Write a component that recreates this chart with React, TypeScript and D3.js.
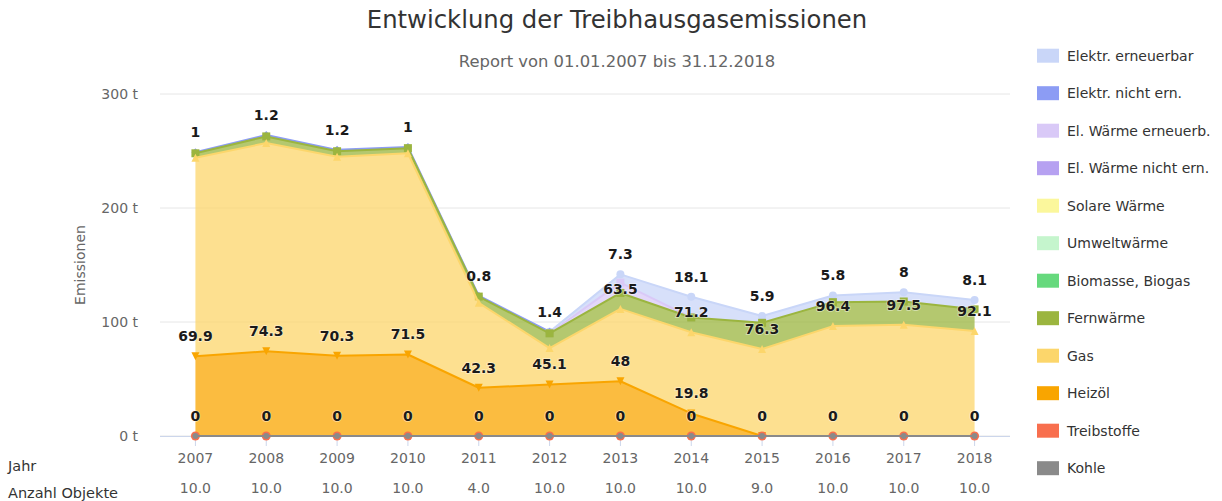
import React from 'react';
import * as d3 from 'd3';

const YEARS = ['2007', '2008', '2009', '2010', '2011', '2012', '2013', '2014', '2015', '2016', '2017', '2018'];
const OBJECT_COUNTS = ['10.0', '10.0', '10.0', '10.0', '4.0', '10.0', '10.0', '10.0', '9.0', '10.0', '10.0', '10.0'];
const Y_TICKS = [0, 100, 200, 300];

type V = number | null;
const ELEKTR_ERNEUERBAR: V[] = [null, null, null, null, null, 0, 7.3, 18.1, 5.9, 5.8, 8, 8.1];
const ELEKTR_NICHT_ERN: V[] = [1, 1.2, 1.2, 1, 0.8, 1.4, null, null, null, null, null, null];
const ELW_ERNEUERB: V[] = [null, null, null, null, null, 0, 9, 0, null, null, null, null];
const ELW_NICHT_ERN: V[] = [null, null, null, null, null, null, null, null, null, null, null, null];
const SOLARE_WAERME: V[] = [null, null, null, null, null, null, null, null, null, null, null, null];
const UMWELTWAERME: V[] = [null, null, null, null, null, null, null, null, null, null, null, null];
const BIOMASSE: V[] = [null, null, null, null, null, null, null, null, null, null, null, null];
const FERNWAERME: V[] = [4, 5.8, 4.8, 4.5, 5.5, 13, 14, 13, 23, 21, 20.5, 19];
const GAS: V[] = [174.1, 182.7, 174.7, 176.5, 74.5, 32, 63.5, 71.2, 76.3, 96.4, 97.5, 92.1];
const HEIZOEL: V[] = [69.9, 74.3, 70.3, 71.5, 42.3, 45.1, 48, 19.8, 0, null, null, null];
const TREIBSTOFFE: V[] = [0, 0, 0, 0, 0, 0, 0, 0, 0, 0, 0, 0];
const KOHLE: V[] = [0, 0, 0, 0, 0, 0, 0, 0, 0, 0, 0, 0];

// series in Highcharts order (first = top of stack)
const SERIES_NAMES = ['Elektr. erneuerbar', 'Elektr. nicht ern.', 'El. Wärme erneuerb.', 'El. Wärme nicht ern.', 'Solare Wärme', 'Umweltwärme', 'Biomasse, Biogas', 'Fernwärme', 'Gas', 'Heizöl', 'Treibstoffe', 'Kohle'];
const SERIES_VALUES = [ELEKTR_ERNEUERBAR, ELEKTR_NICHT_ERN, ELW_ERNEUERB, ELW_NICHT_ERN, SOLARE_WAERME, UMWELTWAERME, BIOMASSE, FERNWAERME, GAS, HEIZOEL, TREIBSTOFFE, KOHLE];
const SERIES_COLORS = ['#c9d6f8', '#8c9cf4', '#d9c9f7', '#b6a1f1', '#fbf79c', '#c5f5cd', '#66d97d', '#9bb53f', '#fcd66b', '#f9a500', '#f86f4e', '#8a8a8a'];
const SERIES_SYMBOLS = ['circle', 'diamond', 'square', 'triangle', 'triangle-down', 'circle', 'diamond', 'square', 'triangle', 'triangle-down', 'circle', 'circle'];
// label priority (lower = wins overlaps); null = no data labels
const LABEL_PRIORITY: (number | null)[] = [1, 0, null, null, null, null, null, null, 4, 3, 2, null];

const W = 1222, H = 501;
const PLOT_L = 160, PLOT_R = 1010, PLOT_T = 94, PLOT_B = 436;
const FONT = '"DejaVu Sans", Verdana, sans-serif';

function symbolPath(sym: string, x: number, y: number, r: number): string {
  switch (sym) {
    case 'diamond': return `M${x},${y - r}L${x + r},${y}L${x},${y + r}L${x - r},${y}Z`;
    case 'square': return `M${x - r},${y - r}h${2 * r}v${2 * r}h${-2 * r}Z`;
    case 'triangle': return `M${x},${y - r}L${x + r},${y + r}L${x - r},${y + r}Z`;
    case 'triangle-down': return `M${x - r},${y - r}L${x + r},${y - r}L${x},${y + r}Z`;
    default: return `M${x - r},${y}a${r},${r} 0 1,0 ${2 * r},0a${r},${r} 0 1,0 ${-2 * r},0`;
  }
}

export default function App() {
  const x = d3.scalePoint<string>().domain(YEARS).range([PLOT_L, PLOT_R]).padding(0.5);
  const y = d3.scaleLinear().domain([0, 300]).range([PLOT_B, PLOT_T]);

  const rows = YEARS.map((yr, i) => {
    const o: any = { year: yr };
    SERIES_NAMES.forEach((s, k) => { o[s] = SERIES_VALUES[k][i] ?? 0; });
    return o;
  });
  const stackGen = d3.stack<any>().keys([...SERIES_NAMES].reverse()).order(d3.stackOrderNone).offset(d3.stackOffsetNone);
  const stacked = stackGen(rows);
  const byName: Record<string, any> = {};
  stacked.forEach(s => { byName[s.key] = s; });

  const seriesGeo = SERIES_NAMES.map((name, k) => {
    const st = byName[name];
    const vals = SERIES_VALUES[k];
    const pts = YEARS.map((yr, i) => ({ i, x: x(yr)!, y0: y(st[i][0]), y1: y(st[i][1]), v: vals[i] }));
    const area = d3.area<any>().defined(p => p.v !== null).x(p => p.x).y0(p => p.y0).y1(p => p.y1);
    const line = d3.line<any>().defined(p => p.v !== null).x(p => p.x).y(p => p.y1);
    return { name, k, pts, areaD: area(pts) || '', lineD: line(pts) || '' };
  });

  type Lab = { x: number; y: number; text: string; pr: number; w: number; h: number };
  const cands: Lab[] = [];
  seriesGeo.forEach(g => {
    const pr = LABEL_PRIORITY[g.k];
    if (pr === null) return;
    g.pts.forEach(p => {
      if (p.v === null) return;
      const text = String(p.v);
      cands.push({ x: p.x, y: p.y1 - 20, text, pr, w: text.length * 9 + 10, h: 21.5 });
    });
  });
  cands.sort((a, b) => a.pr - b.pr);
  const shown: Lab[] = [];
  cands.forEach(c => {
    const hit = shown.some(s => Math.abs(s.x - c.x) < (s.w + c.w) / 2 && Math.abs(s.y - c.y) < (s.h + c.h) / 2);
    if (!hit) shown.push(c);
  });

  const legendY = (i: number) => 55.7 + i * 37.5;

  return (
    <svg width={W} height={H} style={{ position: 'absolute', left: 0, top: 0, display: 'block', background: '#fff' }} fontFamily={FONT}>
      <rect x={0} y={0} width={W} height={H} fill="#fff" />
      <text x={617} y={28} textAnchor="middle" fontSize={24.3} fill="#333">Entwicklung der Treibhausgasemissionen</text>
      <text x={617} y={67} textAnchor="middle" fontSize={16.4} fill="#666">Report von 01.01.2007 bis 31.12.2018</text>

      {Y_TICKS.map(t => (
        <g key={t}>
          <line x1={PLOT_L} x2={PLOT_R} y1={y(t)} y2={y(t)} stroke="#e6e6e6" strokeWidth={1} />
          <text x={138} y={y(t)} dy="0.35em" textAnchor="end" fontSize={14} fill="#666">{`${t} t`}</text>
        </g>
      ))}
      <text transform={`translate(80,265) rotate(-90)`} textAnchor="middle" dy="0.35em" fontSize={14} fill="#666">Emissionen</text>

      <line x1={PLOT_L} x2={PLOT_R} y1={PLOT_B + 0.5} y2={PLOT_B + 0.5} stroke="#ccd6eb" />
      {YEARS.map((yr, i) => (
        <g key={yr}>
          <line x1={x(yr)} x2={x(yr)} y1={PLOT_B} y2={PLOT_B + 10} stroke="#ccd6eb" />
          <text x={x(yr)} y={458} dy="0.35em" textAnchor="middle" fontSize={14} fill="#666">{yr}</text>
          <text x={x(yr)} y={488} dy="0.35em" textAnchor="middle" fontSize={14} fill="#666">{OBJECT_COUNTS[i]}</text>
        </g>
      ))}
      <text x={8} y={466} dy="0.35em" fontSize={14.5} fill="#333">Jahr</text>
      <text x={8} y={493} dy="0.35em" fontSize={14.5} fill="#333">Anzahl Objekte</text>

      {seriesGeo.map(g => (
        <g key={g.name}>
          <path d={g.areaD} fill={SERIES_COLORS[g.k]} fillOpacity={0.75} stroke="none" />
          <path d={g.lineD} fill="none" stroke={SERIES_COLORS[g.k]} strokeWidth={2} strokeLinejoin="round" strokeLinecap="round" />
          {g.pts.filter(p => p.v !== null).map(p => (
            <path key={p.i} d={symbolPath(SERIES_SYMBOLS[g.k], p.x, p.y1, g.k === 11 ? 3 : g.k === 10 ? 4.5 : 4)} fill={SERIES_COLORS[g.k]} />
          ))}
        </g>
      ))}

      {shown.map((l, i) => (
        <text key={i} x={l.x} y={l.y} dy="0.35em" textAnchor="middle" fontSize={14} fontWeight="bold" fill="#1a1a1a"
          stroke="#fff" strokeWidth={1.5} strokeOpacity={0.5} style={{ paintOrder: 'stroke' }}>{l.text}</text>
      ))}

      {SERIES_NAMES.map((name, i) => (
        <g key={name}>
          <rect x={1037} y={legendY(i) - 7} width={22} height={14} fill={SERIES_COLORS[i]} />
          <text x={1067} y={legendY(i)} dy="0.35em" fontSize={14} fill="#333">{name}</text>
        </g>
      ))}
    </svg>
  );
}
